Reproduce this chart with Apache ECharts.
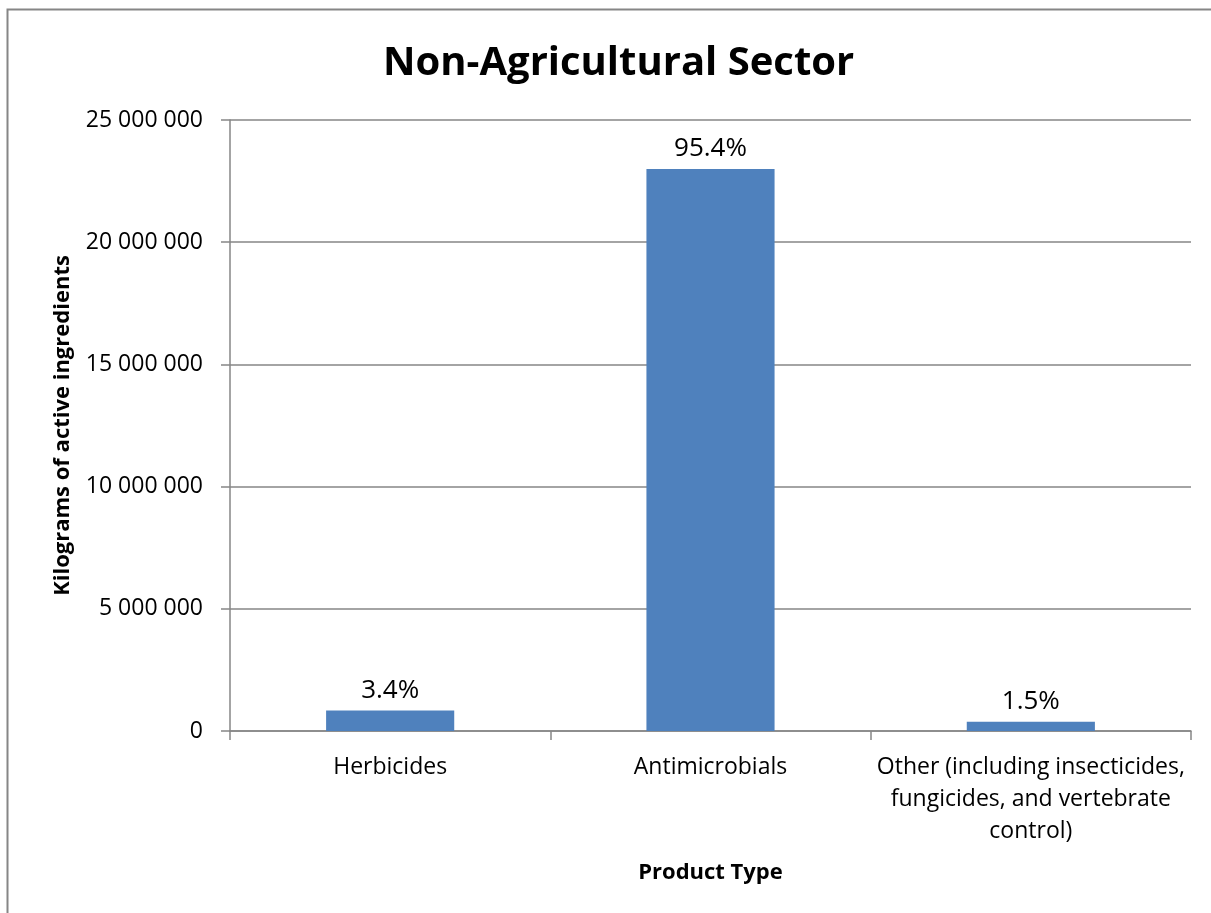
<!DOCTYPE html>
<html>
<head>
<meta charset="utf-8">
<script src="https://cdn.jsdelivr.net/npm/echarts@6/dist/echarts.min.js"></script>
<style>
html,body{margin:0;padding:0;background:#fff;}
#chart{width:1211px;height:913px;}
</style>
</head>
<body>
<div id="chart"></div>
<script>
const titleText = 'Non-Agricultural Sector';
const categories = ['Herbicides', 'Antimicrobials', 'Other (including insecticides,\nfungicides, and vertebrate\ncontrol)'];
const values = [840000, 23000000, 380000];
const percentLabels = ['3.4%', '95.4%', '1.5%'];
const yAxisName = 'Kilograms of active ingredients';
const xAxisName = 'Product Type';

const chart = echarts.init(document.getElementById('chart'));
const fmt = v => String(v).replace(/\B(?=(\d{3})+(?!\d))/g, ' ');
chart.setOption({
  animation: false,
  backgroundColor: '#fff',
  graphic: [{
    type: 'rect', left: 5, top: 7, silent: true,
    shape: { width: 1230, height: 930 },
    style: { fill: 'none', stroke: '#868686', lineWidth: 2 }
  }],
  title: {
    text: titleText, left: 378, top: 39,
    textStyle: { fontFamily: 'Open Sans', fontWeight: 'bold', fontSize: 40, color: '#000' }
  },
  grid: { left: 230, right: 20, top: 120, bottom: 182, containLabel: false },
  xAxis: {
    type: 'category', data: categories,
    name: xAxisName, nameLocation: 'middle', nameGap: 131,
    nameTextStyle: { fontFamily: 'Open Sans', fontWeight: 'bold', fontSize: 22, color: '#000' },
    axisLine: { lineStyle: { color: '#868686', width: 1.5 } },
    axisTick: { show: true, alignWithLabel: false, length: 9, lineStyle: { color: '#868686', width: 1.5 } },
    axisLabel: { fontFamily: 'Open Sans', fontSize: 23, color: '#000', margin: 20, lineHeight: 32, interval: 0 }
  },
  yAxis: {
    type: 'value', min: 0, max: 25000000, interval: 5000000,
    name: yAxisName, nameLocation: 'middle', nameGap: 156, nameRotate: 90,
    nameTextStyle: { fontFamily: 'Open Sans', fontWeight: 'bold', fontSize: 22, color: '#000' },
    axisLine: { show: true, lineStyle: { color: '#868686', width: 1.5 } },
    axisTick: { show: true, length: 9, lineStyle: { color: '#868686', width: 1.5 } },
    axisLabel: { fontFamily: 'Open Sans', fontSize: 23, color: '#000', margin: 27, formatter: fmt },
    splitLine: { show: true, lineStyle: { color: '#868686', width: 1.5 } }
  },
  series: [{
    type: 'bar', data: values, barWidth: '40%',
    itemStyle: { color: '#4F81BD' },
    label: {
      show: true, position: 'top', distance: 7,
      fontFamily: 'Open Sans', fontSize: 26, color: '#000',
      formatter: p => percentLabels[p.dataIndex]
    }
  }]
});
</script>
</body>
</html>
